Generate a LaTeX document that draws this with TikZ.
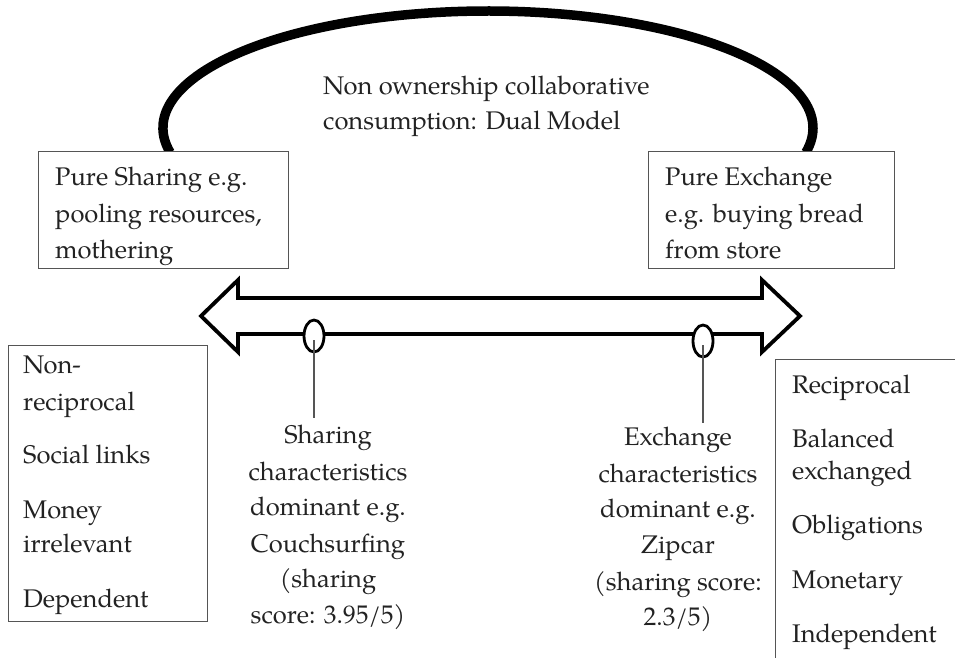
\documentclass[tikz,border=0pt]{standalone}
\usepackage{fontspec}
\setmainfont{TeX Gyre Pagella}
\usetikzlibrary{shapes.geometric}
\definecolor{txtc}{HTML}{222222}
\definecolor{boxc}{HTML}{555555}
\tikzset{
  txt/.style={inner sep=0pt, text=txtc, font=\fontsize{25.5}{30}\selectfont},
  lt/.style={txt, anchor=base west},
  ct/.style={txt, anchor=base},
  panel/.style={draw=boxc, line width=1.4pt, fill=white, inner sep=0pt, anchor=north west},
  bigarc/.style={line width=9.5pt, line cap=butt},
  dblarrow/.style={line width=3.8pt, line join=miter, fill=white},
  marker/.style={ellipse, draw, line width=2.8pt, fill=white, inner sep=0pt, minimum width=20pt, minimum height=32pt},
  pointer/.style={draw=boxc, line width=1.5pt},
}
\begin{document}
\begin{tikzpicture}[x=1pt, y=-1pt]
\clip (0,0) rectangle (955,658);
\fill[white] (0,0) rectangle (955,658);

% big arc
\draw[bigarc] (488,128) ++(168:325 and 117) arc[start angle=168, end angle=372, x radius=325, y radius=117];

% top caption
\begin{scope}
\clip (300,40) rectangle (700,137);
\node[lt] (t1) at (323,95) {Non ownership collaborative};
\node[lt] (t2) at (323,130) {consumption: Dual Model};
\end{scope}

% top boxes
\node[panel, minimum width=250pt, minimum height=117pt] (ps) at (38,151) {};
\node[panel, minimum width=246pt, minimum height=117pt] (pe) at (648,151) {};
\begin{scope}
\clip (38,151) rectangle (288,267.5);
\node[lt] (ps1) at (55,185) {Pure Sharing e.g.};
\node[lt] (ps2) at (55,222) {pooling resources,};
\node[lt] (ps3) at (55,258.5) {mothering};
\end{scope}
\node[lt] (pe1) at (665,185) {Pure Exchange};
\node[lt] (pe2) at (665,222) {e.g. buying bread};
\node[lt] (pe3) at (665,258) {from store};

% double arrow
\draw[dblarrow] (201,316) -- (238,280) -- (238,298) -- (762,298) -- (762,280) -- (800,316)
  -- (762,352) -- (762,334) -- (238,334) -- (238,352) -- cycle;

% markers and pointers
\node[marker] (m1) at (314,336) {};
\node[marker] (m2) at (703,341) {};
\coordinate (p1) at (314,418);
\coordinate (p2) at (703,423);
\draw[pointer] (m1.center) ++(0,4) -- (p1);
\draw[pointer] (m2.center) ++(0,4) -- (p2);

% middle texts
\node[ct] (s1) at (328,443) {Sharing};
\node[ct] (s2) at (328,480) {characteristics};
\node[ct] (s3) at (328,515) {dominant e.g.};
\node[ct] (s4) at (328,552) {Couchsurfing};
\node[ct] (s5) at (328,587) {(sharing};
\node[ct] (s6) at (328,623) {score: 3.95/5)};

\node[ct] (x1) at (678,445) {Exchange};
\node[ct] (x2) at (678,482) {characteristics};
\node[ct] (x3) at (678,517) {dominant e.g.};
\node[ct] (x4) at (678,553) {Zipcar};
\node[ct] (x5) at (678,590) {(sharing score:};
\node[ct] (x6) at (678,625) {2.3/5)};

% bottom boxes
\node[panel, minimum width=199pt, minimum height=276pt] (lb) at (8,345) {};
\node[panel, minimum width=200pt, minimum height=320pt] (rb) at (775,359) {};

\node[lt] (lb1) at (23,373) {Non-};
\node[lt] (lb2) at (23,410) {reciprocal};
\node[lt] (lb3) at (23,463) {Social links};
\node[lt] (lb4) at (23,518) {Money};
\node[lt] (lb5) at (23,552) {irrelevant};
\node[lt] (lb6) at (23,607) {Dependent};

\node[lt] (rb1) at (792,393) {Reciprocal};
\node[lt] (rb2) at (792,447) {Balanced};
\node[lt] (rb3) at (792,479) {exchanged};
\node[lt] (rb4) at (792,533) {Obligations};
\node[lt] (rb5) at (792,588) {Monetary};
\node[lt] (rb6) at (792,642) {Independent};
\end{tikzpicture}
\end{document}
